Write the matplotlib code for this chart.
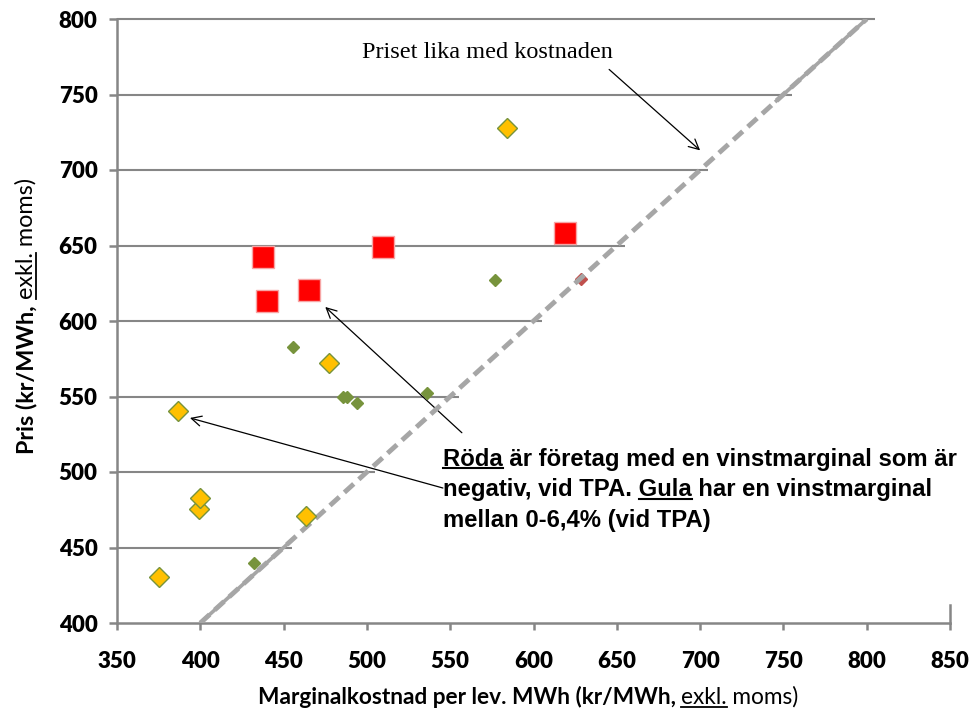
import numpy as np
import matplotlib
matplotlib.use("Agg")
import matplotlib.pyplot as plt
from matplotlib.transforms import IdentityTransform
from matplotlib.lines import Line2D

# Data: marginal cost (x) vs price (y), kr/MWh excl. VAT
red_cost = [437.6, 440.0, 465.0, 509.6, 619.0]
red_price = [642.4, 613.0, 620.5, 649.0, 658.0]

yellow_cost = [584.0, 386.6, 399.3, 400.0, 463.4, 375.2, 477.0]
yellow_price = [728.0, 540.4, 475.5, 482.8, 470.9, 430.5, 572.5]

green_cost = [576.8, 455.6, 485.4, 487.8, 494.2, 536.0, 432.0]
green_price = [627.0, 582.6, 549.5, 549.5, 545.9, 552.0, 439.7]

small_red_cost = [628.8]
small_red_price = [627.6]

parity = [400, 800]          # price equal to cost
x_ticks = list(range(350, 851, 50))
y_ticks = list(range(400, 801, 50))

W, H = 971, 711
fig = plt.figure(figsize=(W / 100, H / 100), dpi=100)
ax = fig.add_axes([117 / W, 88 / H, 833 / W, 604 / H])
ax.set_xlim(350, 850)
ax.set_ylim(400, 800)

grey = "#868686"
for s in ["top", "right"]:
    ax.spines[s].set_visible(False)
for s in ["left", "bottom"]:
    ax.spines[s].set_color(grey)
    ax.spines[s].set_linewidth(1.8)

# horizontal gridlines stop at the cost = price line
for yv in y_ticks[1:]:
    ax.hlines(yv, 350, min(yv + 5, 850), color=grey, lw=1.5, zorder=1, clip_on=False)
ax.plot([850, 850], [400, 412], color=grey, lw=1.8, clip_on=False, zorder=2)

tick_font = dict(family="Lato", weight="heavy", size=16)
ax.set_xticks(x_ticks)
ax.set_yticks(y_ticks)
ax.set_xticklabels([str(v) for v in x_ticks], fontdict=tick_font)
ax.set_yticklabels([str(v) for v in y_ticks], fontdict=tick_font)
ax.tick_params(axis="x", direction="out", length=5, width=1.8, color=grey, pad=15)
ax.tick_params(axis="y", direction="out", length=6, width=1.8, color=grey, pad=8)

# markers
ax.plot(small_red_cost, small_red_price, "D", ms=6, color="#c0504d", mec="#c0504d", zorder=3)
line_grey = "#a6a6a6"
ax.plot([400, 455], [400, 455], color=line_grey, lw=2.6, solid_capstyle="butt", zorder=4)
ax.plot([745, 800], [745, 800], color=line_grey, lw=2.6, solid_capstyle="butt", zorder=4)
ax.plot(parity, parity, color=line_grey, lw=3.5, dashes=(2.6, 1.4), zorder=4)
ax.plot(green_cost, green_price, "D", ms=5.8, color="#77933c", mec="#77933c", zorder=5)
ax.plot(yellow_cost, yellow_price, "D", ms=9.8, color="#ffc000", mec="#77933c", mew=1, zorder=5)
ax.plot(red_cost, red_price, "s", ms=16.5, color="#ff0000", mec="#f7a5a5", mew=1, zorder=5)

# annotations
arrow = dict(arrowstyle="->", color="black", lw=0.9, mutation_scale=18, shrinkA=0, shrinkB=0)
ax.text(572.5, 778, "Priset lika med kostnaden", family="Liberation Serif",
        size=17.5, ha="center", va="center")
ax.annotate("", xy=(700, 713), xytext=(645.4, 766.6), arrowprops=arrow)
ax.annotate("", xy=(475, 609.3), xytext=(557, 526), arrowprops=arrow)
ax.annotate("", xy=(393.8, 535.8), xytext=(545.6, 489.4), arrowprops=arrow)

renderer = fig.canvas.get_renderer()
ident = IdentityTransform()


def text_width(s, **kw):
    t = fig.text(0, 0, s, transform=ident, **kw)
    w = t.get_window_extent(renderer).width
    t.remove()
    return w


def underline(x0, x1, y, lw, rot=False):
    if rot:
        fig.add_artist(Line2D([y, y], [x0, x1], transform=ident, color="black", lw=lw))
    else:
        fig.add_artist(Line2D([x0, x1], [y, y], transform=ident, color="black", lw=lw))


# note text with underlined words
note = dict(family="Liberation Sans", weight="bold", size=17.2)
fs_px = 17.2 * 100 / 72
note_x = 443
note_lines = [
    ("Röda är företag med en vinstmarginal som är", "", "Röda"),
    ("negativ, vid TPA. Gula har en vinstmarginal", "negativ, vid TPA. ", "Gula"),
    ("mellan 0-6,4% (vid TPA)", None, None),
]
for i, (line, prefix, word) in enumerate(note_lines):
    base = H - (466 + 30.3 * i)
    fig.text(note_x, base, line, transform=ident, ha="left", va="baseline", **note)
    if word is not None:
        end = text_width(prefix + word, **note)
        start = end - text_width(word, **note)
        underline(note_x + start, note_x + end, base - 0.1 * fs_px, 1.5)


def axis_label(parts, center, base, rot, size):
    # parts: (text, weight, underlined head)
    lab = dict(family="Lato", size=size)
    gap = text_width("a a", weight="bold", **lab) - text_width("aa", weight="bold", **lab)
    widths = [text_width(p[0], weight=p[1], **lab) for p in parts]
    total = sum(widths) + gap * (len(parts) - 1)
    pos = center - total / 2
    fs = size * 100 / 72
    for (s, wt, ul), w in zip(parts, widths):
        if rot:
            fig.text(base, pos, s, transform=ident, rotation=90, rotation_mode="anchor",
                     ha="left", va="baseline", weight=wt, **lab)
        else:
            fig.text(pos, base, s, transform=ident, ha="left", va="baseline", weight=wt, **lab)
        if ul:
            uw = text_width(ul, weight=wt, **lab)
            if rot:
                underline(pos, pos + uw, base + 0.12 * fs, 1.3, rot=True)
            else:
                underline(pos, pos + uw, base - 0.12 * fs, 1.3)
        pos += w + gap


axis_label([("Marginalkostnad per lev. MWh (kr/MWh,", "bold", None),
            ("exkl. moms)", "normal", "exkl.")], 528, H - 704, rot=False, size=16.3)
axis_label([("Pris (kr/MWh,", "bold", None),
            ("exkl. moms)", "normal", "exkl.")], H - 316, 33, rot=True, size=16.8)

fig.savefig("out.png", dpi=100)
